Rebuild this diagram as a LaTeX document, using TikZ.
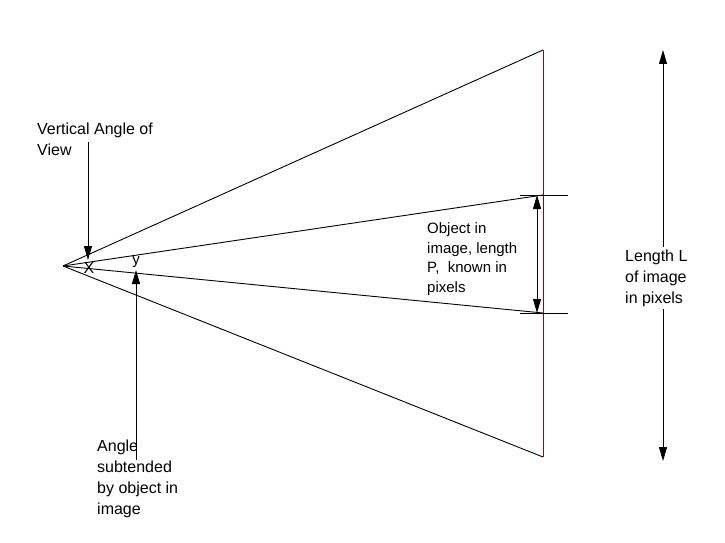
\documentclass[tikz,border=0pt]{standalone}
\usepackage{fontspec}
\setmainfont{Liberation Sans}
\usetikzlibrary{arrows.meta}
\definecolor{darkred}{RGB}{120,20,20}
\begin{document}
\begin{tikzpicture}[x=1pt,y=-1pt,
  ln/.style={line width=0.9pt},
  arr/.style={ln,-{Triangle[length=14pt,width=8pt]}},
  darr/.style={ln,{Triangle[length=14pt,width=8pt]}-{Triangle[length=14pt,width=8pt]}},
  lbl/.style={font=\fontsize{16}{21}\selectfont,align=left,inner sep=0pt},
  sml/.style={font=\fontsize{15}{19.5}\selectfont,align=left,inner sep=0pt}]
\useasboundingbox (0,0) rectangle (725,543);
\coordinate (O) at (63,266);
\coordinate (T) at (543,50);
\coordinate (B) at (543,457);
\coordinate (P1) at (543,195);
\coordinate (P2) at (543,313);
\draw[ln] (O) -- (T);
\draw[ln] (O) -- (B);
\draw[ln] (O) -- (P1);
\draw[ln] (O) -- (P2);
\draw[ln,darkred] (T) -- (B);
\coordinate (t1a) at (520,195); \coordinate (t1b) at (568,195);
\coordinate (t2a) at (520,313); \coordinate (t2b) at (568,313);
\draw[ln] (t1a) -- (t1b);
\draw[ln] (t2a) -- (t2b);
\coordinate (a1) at (537,195); \coordinate (a2) at (537,313);
\draw[darr] (a1) -- (a2);
\coordinate (L1) at (663,50); \coordinate (L2) at (663,461);
\draw[darr] (L1) -- (L2);
\node[lbl,fill=white,anchor=west,inner sep=3pt] (lenL) at (622,278) {Length L\\of image\\in pixels};
\node[sml,anchor=west] (obj) at (427,259) {Object in\\image, length\\P,\ \ known in\\pixels};
\node[lbl,anchor=north west] (vav) at (37,123) {Vertical Angle of\\View};
\coordinate (v1) at (88,142); \coordinate (v2) at (88,260);
\draw[arr] (v1) -- (v2);
\node[font=\fontsize{16}{16}\selectfont,inner sep=0pt] (X) at (89,268) {X};
\node[font=\fontsize{15}{15}\selectfont,inner sep=0pt] (Y) at (136,262) {y};
\coordinate (s1) at (136,460); \coordinate (s2) at (136,270);
\draw[arr] (s1) -- (s2);
\node[lbl,anchor=north west] (ang) at (97,440) {Angle\\subtended\\by object in\\image};
\end{tikzpicture}
\end{document}
